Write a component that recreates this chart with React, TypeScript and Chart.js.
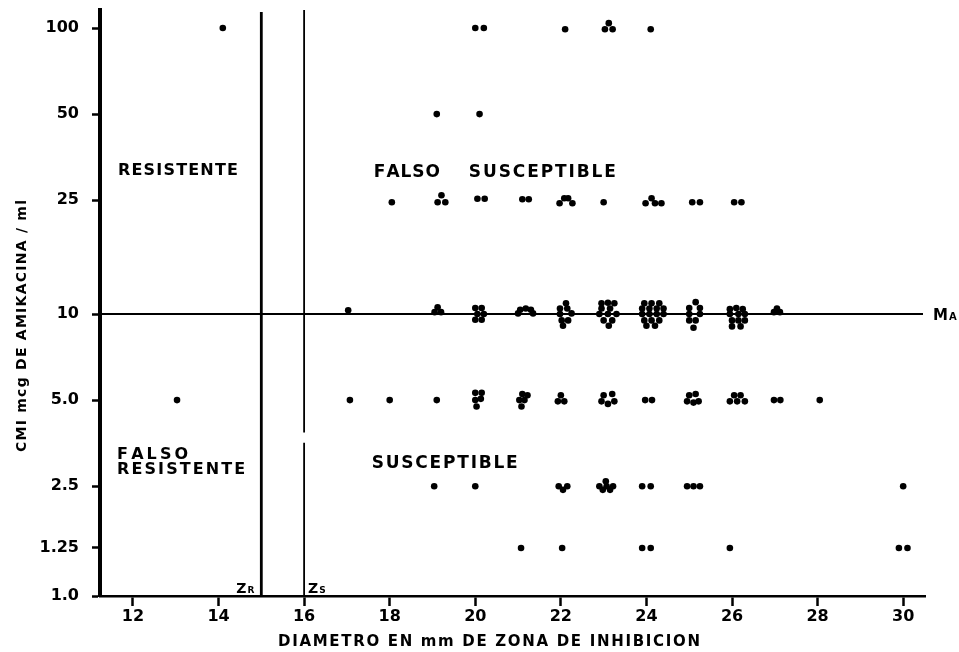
import React, { useEffect, useRef } from 'react';
import { Chart, registerables, LinearScale } from 'chart.js';

// ---------- DATA ----------
// x: diámetro de zona de inhibición (mm); y: CMI (mcg/ml)
const xTickValues = [12, 14, 16, 18, 20, 22, 24, 26, 28, 30];
const yTickValues = [1.0, 1.25, 2.5, 5, 10, 25, 50, 100];
const yTickLabels = ['1.0', '1.25', '2.5', '5.0', '10', '25', '50', '100'];

const zoneR = 15; // Zr
const zoneS = 16; // Zs
const micBreakpoint = 10; // Ma

const cmi100: [number, number][] = [
  [14.1, 100], [20.0, 100], [20.2, 100], [22.1, 99], [23.03, 99], [23.21, 99], [23.12, 104], [24.1, 99],
];
const cmi50: [number, number][] = [[19.1, 50], [20.1, 50]];
const cmi25: [number, number][] = [
  [18.05, 24.6], [19.12, 24.6], [19.3, 24.6], [19.21, 26.0], [20.05, 25.3], [20.22, 25.3],
  [21.1, 25.2], [21.25, 25.2], [21.97, 24.4], [22.08, 25.4], [22.17, 25.4], [22.27, 24.4],
  [23.0, 24.6], [23.98, 24.4], [24.12, 25.4], [24.2, 24.4], [24.35, 24.4],
  [25.07, 24.6], [25.25, 24.6], [26.05, 24.6], [26.22, 24.6],
];
const cmi10: [number, number][] = [
  [17.03, 10.3],
  [19.05, 10.15], [19.2, 10.15], [19.12, 10.55],
  [20.0, 10.5], [20.15, 10.5], [20.05, 10.0], [20.2, 10.0], [20.0, 9.55], [20.15, 9.55],
  [21.05, 10.35], [21.18, 10.45], [21.3, 10.35], [21.0, 10.05], [21.35, 10.05],
  [22.12, 10.9], [21.98, 10.45], [22.15, 10.45], [21.98, 10.0], [22.25, 10.05], [22.02, 9.5], [22.17, 9.5], [22.05, 9.1],
  [22.95, 10.9], [23.1, 10.95], [23.25, 10.9], [22.95, 10.45], [23.15, 10.45], [22.9, 10.0], [23.1, 10.0], [23.3, 10.0],
  [23.0, 9.5], [23.2, 9.5], [23.12, 9.1],
  [23.95, 10.9], [24.12, 10.9], [24.3, 10.9], [23.9, 10.45], [24.07, 10.45], [24.24, 10.45], [24.4, 10.45],
  [23.9, 10.0], [24.07, 10.0], [24.24, 10.0], [24.4, 10.0], [23.95, 9.5], [24.12, 9.5], [24.3, 9.5], [24.0, 9.1], [24.2, 9.1],
  [25.15, 11.0], [25.0, 10.5], [25.25, 10.5], [25.0, 10.0], [25.25, 10.0], [25.0, 9.5], [25.15, 9.5], [25.1, 8.95],
  [25.95, 10.4], [26.1, 10.5], [26.25, 10.4], [25.95, 10.0], [26.15, 10.0], [26.3, 10.0],
  [26.0, 9.5], [26.15, 9.5], [26.3, 9.5], [26.0, 9.05], [26.2, 9.05],
  [27.05, 10.45], [26.98, 10.15], [27.12, 10.15],
];
const cmi5: [number, number][] = [
  [13.03, 5], [17.07, 5], [18.0, 5], [19.1, 5],
  [20.0, 5.3], [20.15, 5.3], [20.0, 5.0], [20.13, 5.05], [20.03, 4.75],
  [21.1, 5.25], [21.22, 5.2], [21.03, 5.0], [21.15, 5.0], [21.08, 4.75],
  [21.93, 4.95], [22.08, 4.95], [22.0, 5.2],
  [23.0, 5.2], [23.2, 5.25], [22.95, 4.95], [23.1, 4.85], [23.25, 4.95],
  [23.97, 5], [24.13, 5],
  [25.0, 5.2], [25.15, 5.25], [24.95, 4.95], [25.1, 4.9], [25.22, 4.95],
  [25.95, 4.95], [26.05, 5.2], [26.12, 4.95], [26.2, 5.2], [26.3, 4.95],
  [26.98, 5], [27.13, 5], [28.05, 5],
];
const cmi2_5: [number, number][] = [
  [19.04, 2.5], [20.0, 2.5], [21.95, 2.5], [22.15, 2.5], [22.05, 2.4],
  [23.05, 2.6], [22.9, 2.5], [23.07, 2.5], [23.22, 2.5], [22.98, 2.4], [23.15, 2.4],
  [23.9, 2.5], [24.1, 2.5], [24.95, 2.5], [25.1, 2.5], [25.25, 2.5], [30.0, 2.5],
];
const cmi1_25: [number, number][] = [
  [21.07, 1.25], [22.03, 1.25], [23.9, 1.25], [24.1, 1.25], [25.95, 1.25], [29.9, 1.25], [30.1, 1.25],
];

// ---------- SCALE (log axis with the original's compressed bottom) ----------
function cmiToUnit(v: number): number {
  if (v >= 2.5) return Math.log10(v);
  if (v >= 1.25) return 0.182 + (Math.log10(v / 1.25) / Math.log10(2)) * (Math.log10(2.5) - 0.182);
  return 0.014 + (Math.log10(v) / Math.log10(1.25)) * (0.182 - 0.014);
}
function unitToCmi(u: number): number {
  if (u >= Math.log10(2.5)) return Math.pow(10, u);
  if (u >= 0.182) return 1.25 * Math.pow(2, (u - 0.182) / (Math.log10(2.5) - 0.182));
  return Math.pow(1.25, (u - 0.014) / (0.182 - 0.014));
}

class CmiScale extends (LinearScale as any) {
  static id = 'cmiScale';
  static defaults = { ...(LinearScale as any).defaults };
  determineDataLimits() {
    this.min = this.options.min;
    this.max = this.options.max;
  }
  buildTicks() {
    return yTickValues.map((value) => ({ value }));
  }
  getPixelForValue(value: number) {
    const u0 = cmiToUnit(this.min), u1 = cmiToUnit(this.max);
    return this.getPixelForDecimal((cmiToUnit(value) - u0) / (u1 - u0));
  }
  getValueForPixel(pixel: number) {
    const u0 = cmiToUnit(this.min), u1 = cmiToUnit(this.max);
    return unitToCmi(u0 + this.getDecimalForPixel(pixel) * (u1 - u0));
  }
}

Chart.register(...registerables, CmiScale as any);

const FAMILY = '"DejaVu Sans", "Liberation Sans", sans-serif';

function drawSpaced(ctx: CanvasRenderingContext2D, text: string, left: number, y: number, size: number, target: number) {
  ctx.font = `bold ${size}px ${FAMILY}`;
  ctx.textAlign = 'left';
  ctx.textBaseline = 'middle';
  const chars = Array.from(text);
  const widths = chars.map((c) => ctx.measureText(c).width);
  const total = widths.reduce((a, b) => a + b, 0);
  const sp = chars.length > 1 ? (target - total) / (chars.length - 1) : 0;
  let x = left;
  chars.forEach((c, i) => {
    ctx.fillText(c, x, y);
    x += widths[i] + sp;
  });
}

const refLinesPlugin = {
  id: 'refLines',
  beforeDatasetsDraw(chart: any) {
    const { ctx, chartArea, scales } = chart;
    const x = scales.x, y = scales.y;
    ctx.save();
    ctx.strokeStyle = '#000';
    ctx.lineCap = 'butt';
    // Ma line
    const ym = y.getPixelForValue(micBreakpoint);
    ctx.lineWidth = 2;
    ctx.beginPath();
    ctx.moveTo(chartArea.left, ym);
    ctx.lineTo(chartArea.right - 2, ym);
    ctx.stroke();
    // Zr line
    const xr = x.getPixelForValue(zoneR);
    ctx.lineWidth = 2.8;
    ctx.beginPath();
    ctx.moveTo(xr, chartArea.top + 2);
    ctx.lineTo(xr, chartArea.bottom);
    ctx.stroke();
    // Zs line (with scan gap)
    const xs = x.getPixelForValue(zoneS);
    ctx.lineWidth = 1.8;
    ctx.beginPath();
    ctx.moveTo(xs, chartArea.top);
    ctx.lineTo(xs, y.getPixelForValue(3.85));
    ctx.moveTo(xs, y.getPixelForValue(3.55));
    ctx.lineTo(xs, chartArea.bottom);
    ctx.stroke();
    ctx.restore();
  },
  afterDraw(chart: any) {
    const { ctx, chartArea, scales } = chart;
    const x = scales.x, y = scales.y;
    ctx.save();
    ctx.fillStyle = '#000';
    // region labels
    drawSpaced(ctx, 'RESISTENTE', x.getPixelForValue(11.65), y.getPixelForValue(31.6), 16, 120);
    drawSpaced(ctx, 'FALSO', x.getPixelForValue(17.63), y.getPixelForValue(31.1), 17, 66);
    drawSpaced(ctx, 'SUSCEPTIBLE', x.getPixelForValue(19.85), y.getPixelForValue(31.1), 17, 147);
    drawSpaced(ctx, 'FALSO', x.getPixelForValue(11.63), y.getPixelForValue(3.21), 16, 71);
    drawSpaced(ctx, 'RESISTENTE', x.getPixelForValue(11.63), y.getPixelForValue(2.85), 16, 128);
    drawSpaced(ctx, 'SUSCEPTIBLE', x.getPixelForValue(17.58), y.getPixelForValue(3.0), 17, 146);

    // Zr / Zs / Ma
    const xr = x.getPixelForValue(zoneR);
    const xs = x.getPixelForValue(zoneS);
    const yb = chartArea.bottom - 8;
    ctx.textBaseline = 'alphabetic';
    ctx.textAlign = 'left';
    ctx.font = `bold 14px ${FAMILY}`;
    const zW = ctx.measureText('Z').width;
    ctx.font = `bold 9px ${FAMILY}`;
    const rW = ctx.measureText('R').width;
    ctx.font = `bold 14px ${FAMILY}`;
    ctx.fillText('Z', xr - 7 - rW - 1 - zW, yb + 5);
    ctx.fillText('Z', xs + 4, yb + 5);
    ctx.font = `bold 9px ${FAMILY}`;
    ctx.fillText('R', xr - 7 - rW, yb + 5);
    ctx.fillText('S', xs + 4 + zW + 1, yb + 5);

    const ym = y.getPixelForValue(micBreakpoint);
    ctx.font = `bold 15px ${FAMILY}`;
    ctx.fillText('M', chartArea.right + 8, ym + 6);
    const mW = ctx.measureText('M').width;
    ctx.font = `bold 10px ${FAMILY}`;
    ctx.fillText('A', chartArea.right + 8 + mW + 1, ym + 6);

    // axis titles
    drawSpaced(ctx, 'DIAMETRO EN mm DE ZONA DE INHIBICION', 278, 642, 15, 422);
    ctx.translate(22, 326);
    ctx.rotate(-Math.PI / 2);
    drawSpaced(ctx, 'CMI mcg DE AMIKACINA / ml', -126, 0, 14, 252);
    ctx.restore();
  },
};

export default function App() {
  const ref = useRef<HTMLCanvasElement | null>(null);
  useEffect(() => {
    if (!ref.current) return;
    const toPts = (arr: [number, number][]) => arr.map(([d, c]) => ({ x: d, y: c }));
    const allPts = [cmi100, cmi50, cmi25, cmi10, cmi5, cmi2_5, cmi1_25].flatMap(toPts);
    const chart = new Chart(ref.current, {
      type: 'scatter',
      data: {
        datasets: [
          {
            data: allPts,
            backgroundColor: '#000',
            borderColor: '#000',
            borderWidth: 0,
            pointRadius: 3.3,
          },
        ],
      },
      options: {
        animation: false,
        responsive: false,
        events: [],
        layout: { padding: { top: 10, right: 34, left: 0, bottom: 0 } },
        plugins: { legend: { display: false }, tooltip: { enabled: false } },
        scales: {
          x: {
            type: 'linear',
            min: 11.23,
            max: 30.51,
            afterFit: (s: any) => { s.height = 56; s.paddingLeft = 0; s.paddingRight = 0; },
            afterBuildTicks: (s: any) => { s.ticks = xTickValues.map((v) => ({ value: v })); },
            border: { display: true, color: '#000', width: 2.5 },
            grid: { drawOnChartArea: false, drawTicks: true, tickLength: 10, tickWidth: 2.5, tickColor: '#000' },
            ticks: {
              color: '#000',
              padding: 1,
              font: { family: FAMILY, weight: 'bold', size: 16 },
              maxRotation: 0,
              autoSkip: false,
              callback: (v: any) => String(v),
            },
          },
          y: {
            type: 'cmiScale' as any,
            min: 1.0,
            max: 115.6,
            afterFit: (s: any) => { s.width = 100; s.paddingTop = 0; s.paddingBottom = 0; },
            border: { display: true, color: '#000', width: 4 },
            grid: { drawOnChartArea: false, drawTicks: true, tickLength: 8, tickWidth: 2.5, tickColor: '#000' },
            ticks: {
              color: '#000',
              padding: 13,
              font: { family: FAMILY, weight: 'bold', size: 16 },
              autoSkip: false,
              callback: (v: any) => {
                const i = yTickValues.indexOf(Number(v));
                return i >= 0 ? yTickLabels[i] : '';
              },
            },
          },
        },
      } as any,
      plugins: [refLinesPlugin],
    });
    return () => chart.destroy();
  }, []);
  return (
    <div style={{ position: 'fixed', left: 0, top: 0, width: 959, height: 652, background: '#fff' }}>
      <canvas ref={ref} width={959} height={652} style={{ display: 'block' }} />
    </div>
  );
}
